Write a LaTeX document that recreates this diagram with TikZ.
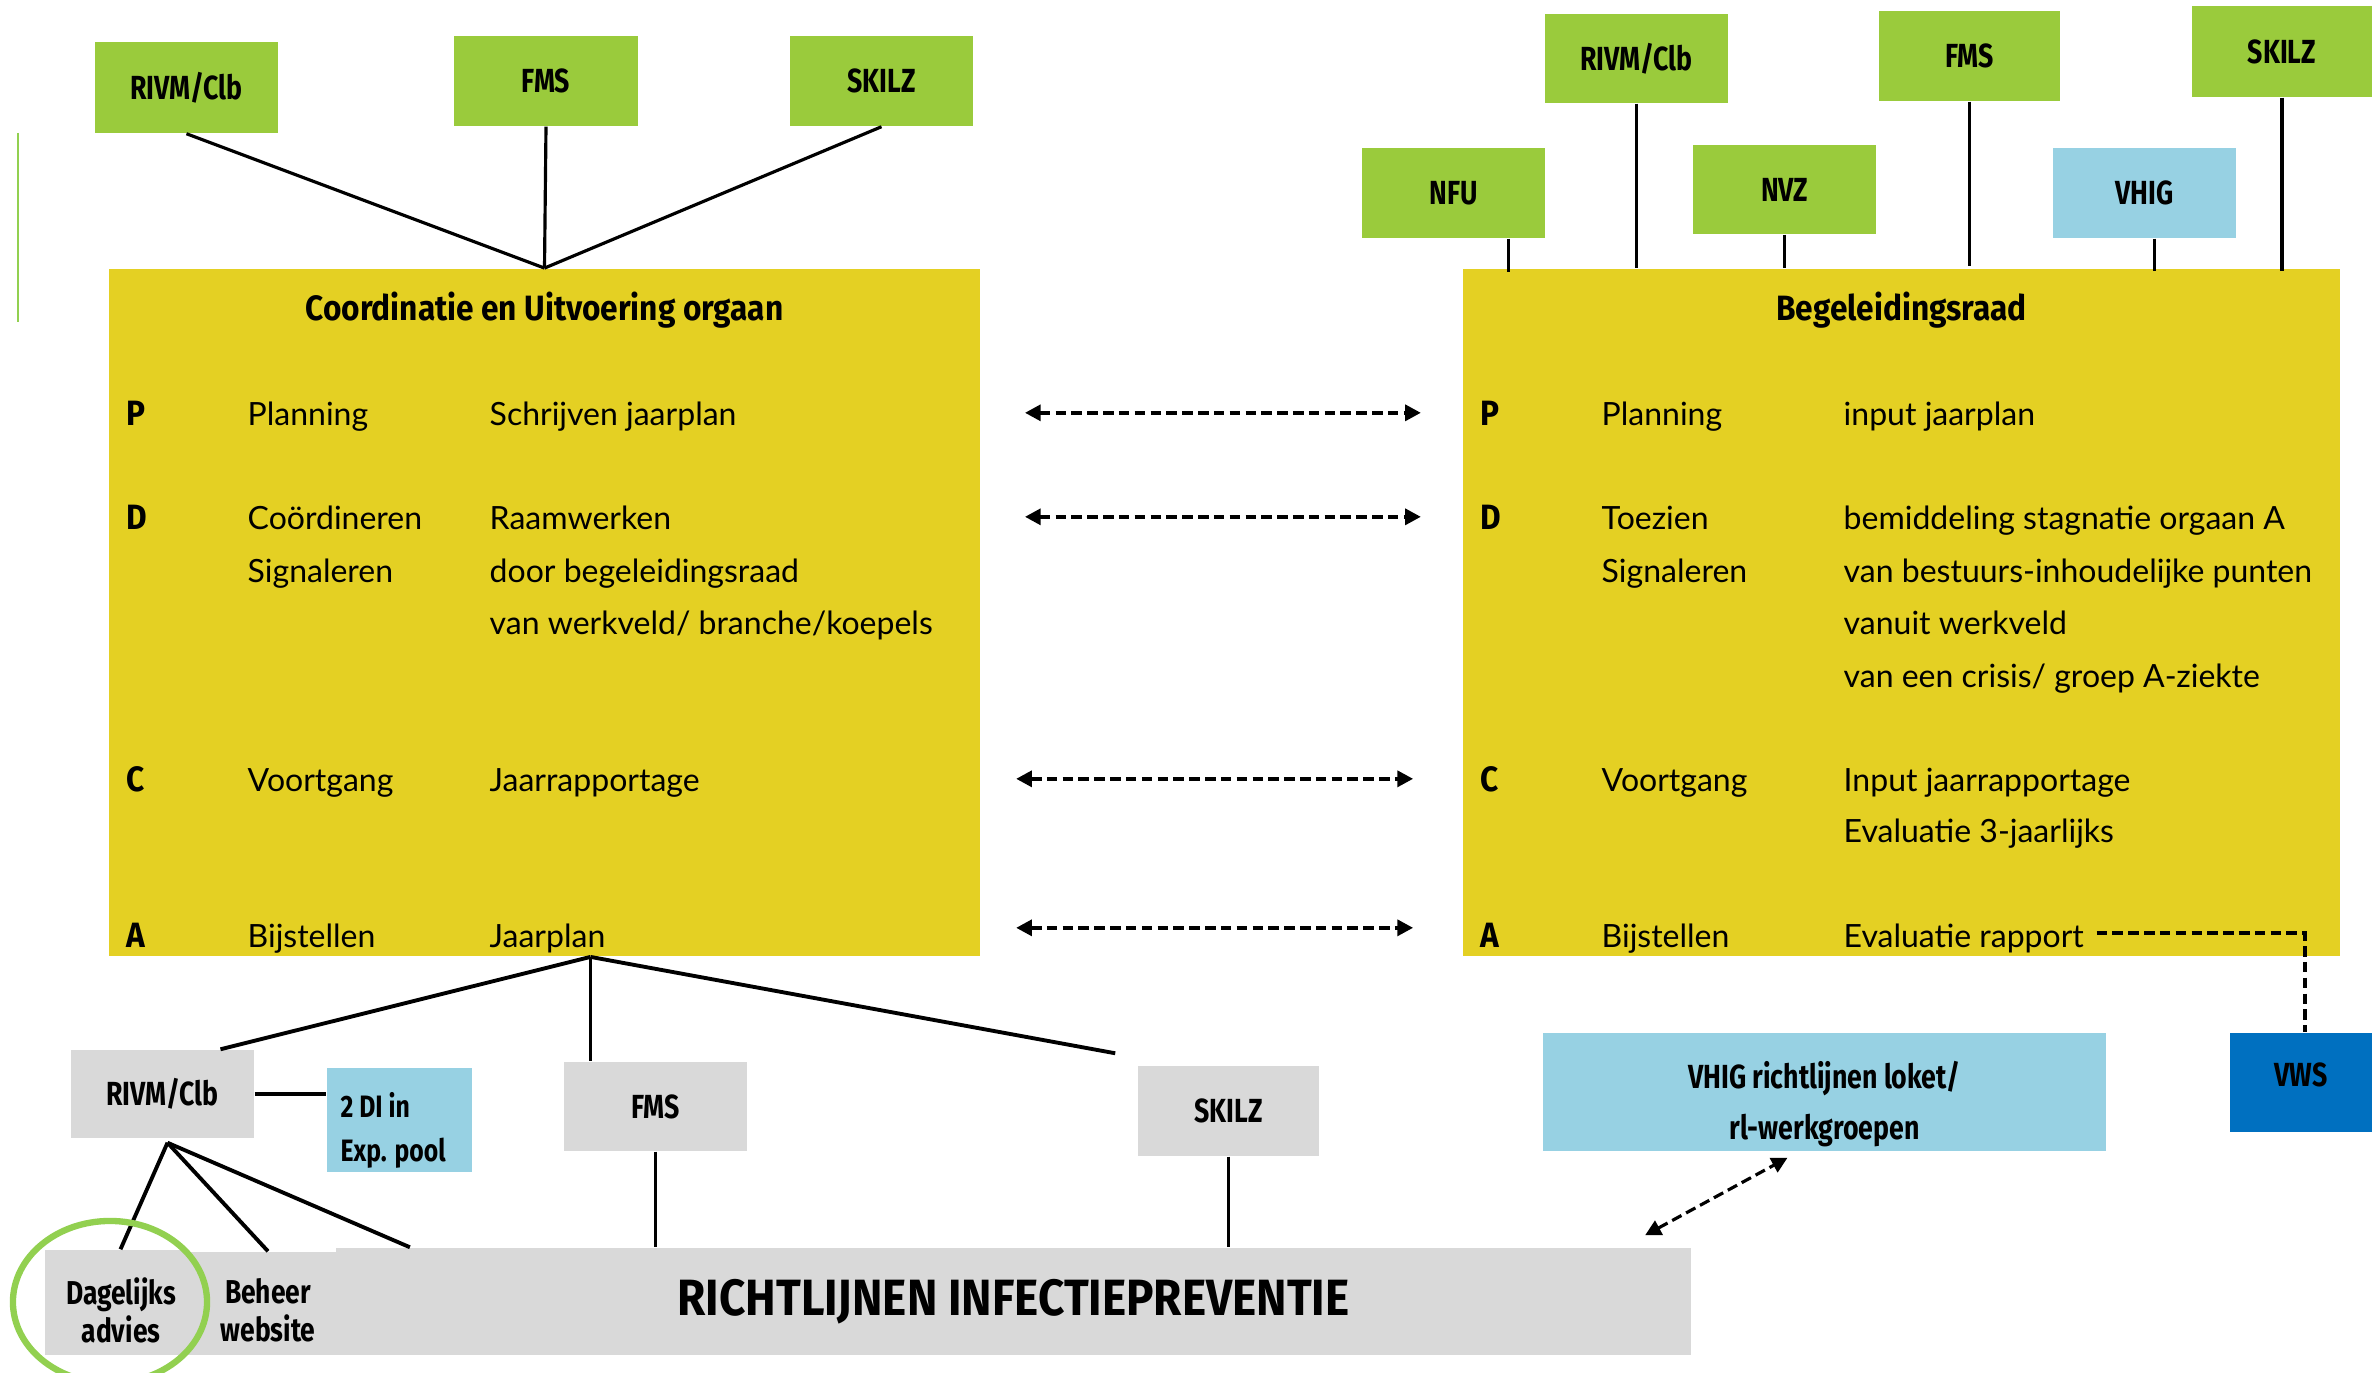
\documentclass[tikz,border=0pt]{standalone}
\usepackage{fontspec}
\setmainfont{Lato}
\newfontfamily\lblfont[FakeStretch=0.8]{Fira Sans}
\newfontfamily\ttlfont[FakeStretch=0.9]{Fira Sans}
\usetikzlibrary{arrows.meta,calc,shapes.geometric}
\definecolor{cgreen}{HTML}{9ACB3C}
\definecolor{cyellow}{HTML}{E4D023}
\definecolor{clblue}{HTML}{97D1E3}
\definecolor{cgrey}{HTML}{D9D9D9}
\definecolor{cdblue}{HTML}{0070C0}
\definecolor{cring}{HTML}{92D050}
\tikzset{
  lbl/.style={inner sep=0pt, align=center, font=\lblfont\bfseries\fontsize{9.5}{11}\selectfont},
  gbox/.style={lbl, fill=cgreen},
  bbox/.style={lbl, fill=clblue},
  greybox/.style={lbl, fill=cgrey},
  ybox/.style={fill=cyellow, inner sep=0pt},
  ttl/.style={inner sep=0pt, font=\ttlfont\bfseries\fontsize{10}{12}\selectfont},
  lt/.style={inner sep=0pt, anchor=base west, font=\ttlfont\bfseries\fontsize{10}{12}\selectfont},
  bt/.style={inner sep=0pt, anchor=base west, font=\fontsize{9.1}{11}\selectfont},
  ln/.style={line width=0.9pt, draw=black},
  lnb/.style={line width=1.1pt, draw=black},
  dar/.style={line width=1.1pt, dash pattern=on 3pt off 1.5pt,
    {Triangle[length=4.5pt,width=4.5pt]}-{Triangle[length=4.5pt,width=4.5pt]}},
  dsh/.style={line width=1pt, dash pattern=on 3pt off 1.5pt}
}
\begin{document}
\begin{tikzpicture}[x=0.01cm,y=-0.01cm]
\path[fill=white] (0,0) rectangle (2372,1373);
\useasboundingbox (0,0) rectangle (2372,1373);

% left green mark
\draw[cring, line width=0.8pt] (18,133) -- (18,322);

% ---------- top left ----------
\node[gbox, minimum width=1.83cm, minimum height=0.91cm] (tRIVM) at (186.5,87.5) {RIVM/Clb};
\node[gbox, minimum width=1.83cm, minimum height=0.90cm] (tFMS) at (546,81) {FMS};
\node[gbox, minimum width=1.83cm, minimum height=0.90cm] (tSKILZ) at (881.5,81) {SKILZ};

\node[ybox, minimum width=8.71cm, minimum height=6.87cm] (cuo) at (544.5,612.5) {};
\node[ttl] (cuoT) at (544.5,310) {Coordinatie en Uitvoering orgaan};

\draw[ln] (tRIVM.south) -- (cuo.north);
\draw[ln] (tFMS.south) -- (cuo.north);
\draw[ln] (tSKILZ.south) -- (cuo.north);

\node[lt] (lP) at (126,425) {P};
\node[bt] (lP2) at (247,425) {Planning};
\node[bt] (lP3) at (489,425) {Schrijven jaarplan};
\node[lt] (lD) at (126,529) {D};
\node[bt] (lD2) at (247,529) {Coördineren};
\node[bt] (lD3) at (489,529) {Raamwerken};
\node[bt] (lS2) at (247,582) {Signaleren};
\node[bt] (lS3) at (489,582) {door begeleidingsraad};
\node[bt] (lV3) at (489,634) {van werkveld/ branche/koepels};
\node[lt] (lC) at (126,791) {C};
\node[bt] (lC2) at (247,791) {Voortgang};
\node[bt] (lC3) at (489,791) {Jaarrapportage};
\node[lt] (lA) at (126,947) {A};
\node[bt] (lA2) at (247,947) {Bijstellen};
\node[bt] (lA3) at (489,947) {Jaarplan};

% ---------- top right ----------
\node[gbox, minimum width=1.83cm, minimum height=0.90cm] (NFU) at (1453.5,193) {NFU};
\node[gbox, minimum width=1.83cm, minimum height=0.89cm] (rRIVM) at (1636.5,58.5) {RIVM/Clb};
\node[gbox, minimum width=1.83cm, minimum height=0.89cm] (NVZ) at (1784.5,189.5) {NVZ};
\node[gbox, minimum width=1.81cm, minimum height=0.90cm] (rFMS) at (1969.5,56) {FMS};
\node[bbox, minimum width=1.83cm, minimum height=0.90cm] (VHIG) at (2144.5,193) {VHIG};
\node[gbox, minimum width=1.80cm, minimum height=0.91cm] (rSKILZ) at (2282,51.5) {SKILZ};

\node[ybox, minimum width=8.77cm, minimum height=6.87cm] (br) at (1901.5,612.5) {};
\node[ttl] (brT) at (1901.5,310) {Begeleidingsraad};

\coordinate (nfuB) at ($(NFU.south)+(55,0)$);
\coordinate (vhigB) at ($(VHIG.south)+(10,0)$);
\draw[ln] (nfuB) -- ($(nfuB |- br.north)+(0,4)$);
\draw[ln] (rRIVM.south) -- ($(rRIVM.south |- br.north)+(0,0)$);
\draw[ln] (NVZ.south) -- ($(NVZ.south |- br.north)+(0,0)$);
\draw[ln] (rFMS.south) -- ($(rFMS.south |- br.north)+(0,-2)$);
\draw[ln] (vhigB) -- ($(vhigB |- br.north)+(0,3)$);
\draw[ln] (rSKILZ.south) -- ($(rSKILZ.south |- br.north)+(0,3)$);

\node[lt] (rP) at (1480,425) {P};
\node[bt] (rP2) at (1601,425) {Planning};
\node[bt] (rP3) at (1843,425) {input jaarplan};
\node[lt] (rD) at (1480,529) {D};
\node[bt] (rD2) at (1601,529) {Toezien};
\node[bt] (rD3) at (1843,529) {bemiddeling stagnatie orgaan A};
\node[bt] (rS2) at (1601,582) {Signaleren};
\node[bt] (rS3) at (1843,582) {van bestuurs-inhoudelijke punten};
\node[bt] (rV3) at (1843,634) {vanuit werkveld};
\node[bt] (rK3) at (1843,687) {van een crisis/ groep A-ziekte};
\node[lt] (rC) at (1480,791) {C};
\node[bt] (rC2) at (1601,791) {Voortgang};
\node[bt] (rC3) at (1843,791) {Input jaarrapportage};
\node[bt] (rE3) at (1843,842) {Evaluatie 3-jaarlijks};
\node[lt] (rA) at (1480,947) {A};
\node[bt] (rA2) at (1601,947) {Bijstellen};
\node[bt] (rA3) at (1843,947) {Evaluatie rapport};

% ---------- horizontal arrows ----------
\draw[dar, shorten <=12.5pt, shorten >=11.7pt] (cuo.east |- lP.center) -- (br.west |- lP.center);
\draw[dar, shorten <=12.5pt, shorten >=11.7pt] (cuo.east |- lD.center) -- (br.west |- lD.center);
\draw[dar, shorten <=10pt, shorten >=13.9pt] (cuo.east |- lC.center) -- (br.west |- lC.center);
\draw[dar, shorten <=10pt, shorten >=13.9pt] ($(cuo.east |- lA.center)+(0,-7)$) -- ($(br.west |- lA.center)+(0,-7)$);

% ---------- right bottom ----------
\node[lbl, fill=cdblue, minimum width=1.42cm, minimum height=0.99cm] (VWS) at (2301,1082.5) {};
\node[lbl] (VWSt) at (2301,1075) {VWS};
\node[bbox, minimum width=5.63cm, minimum height=1.18cm] (loket) at (1824.5,1092) {};
\node[lbl, font=\lblfont\bfseries\fontsize{9.5}{14.5}\selectfont] (lokett) at (1824.5,1104) {VHIG richtlijnen loket/\\rl-werkgroepen};
\draw[dsh] ($(rA3.east)+(12,-5)$) -- ($(rA3.east -| VWS.north)+(4,-5)$) -- ($(VWS.north)+(4,0)$);

% ---------- bottom left ----------
\node[greybox, minimum width=1.83cm, minimum height=0.88cm] (gRIVM) at (162.5,1094) {RIVM/Clb};
\node[bbox, minimum width=1.45cm, minimum height=1.04cm] (DI) at (399.5,1120) {};
\node[lbl, anchor=west, align=left, font=\lblfont\bfseries\fontsize{8.8}{12.5}\selectfont] (DIt) at (340,1130) {2 DI in\\Exp. pool};
\node[greybox, minimum width=1.83cm, minimum height=0.89cm] (gFMS) at (655.5,1106.5) {FMS};
\node[greybox, minimum width=1.81cm, minimum height=0.90cm] (gSKILZ) at (1228.5,1111) {SKILZ};

\node[greybox, minimum width=1.41cm, minimum height=1.05cm] (dag) at (115.5,1302.5) {};
\node[lbl, font=\lblfont\bfseries\fontsize{9.4}{10.8}\selectfont] (dagt) at (121,1310) {Dagelijks\\advies};
\node[greybox, minimum width=1.50cm, minimum height=1.03cm] (beh) at (261,1303.5) {};
\node[lbl, font=\lblfont\bfseries\fontsize{9.4}{10.8}\selectfont] (beht) at (268,1310) {Beheer\\website};
\node[greybox, minimum width=13.55cm, minimum height=1.07cm, font=\ttlfont\bfseries\fontsize{14.5}{16}\selectfont] (rich) at (1013.5,1301.5) {RICHTLIJNEN INFECTIEPREVENTIE};

\coordinate (fan) at ($(cuo.south)+(46,0)$);
\draw[lnb] (fan) -- ($(gRIVM.north)+(58,0)$);
\draw[ln] (fan) -- (fan |- gFMS.north);
\draw[lnb] (fan) -- ($(gSKILZ.north west)+(-22,-12)$);
\draw[lnb] (gRIVM.east) -- (gRIVM.east -| DI.west);
\draw[lnb] ($(gRIVM.south)+(5,4)$) -- ($(dag.north)+(5,0)$);
\draw[lnb] ($(gRIVM.south)+(5,4)$) -- ($(beh.north)+(7,0)$);
\draw[lnb] ($(gRIVM.south)+(5,4)$) -- ($(rich.north west)+(75,0)$);
\draw[ln] (gFMS.south) -- (gFMS.south |- rich.north);
\draw[ln] (gSKILZ.south) -- (gSKILZ.south |- rich.north);

\draw[dar, line width=0.9pt] ($(rich.north east)+(-47,-12)$) -- ($(loket.south)+(-37,6)$);

\node[ellipse, draw=cring, line width=1.8pt, minimum width=1.94cm, minimum height=1.62cm, inner sep=0pt] (hl) at (110,1302) {};
\end{tikzpicture}
\end{document}
